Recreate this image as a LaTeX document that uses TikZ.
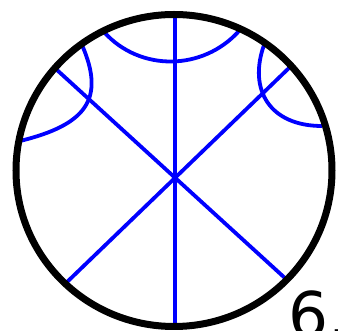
\documentclass[tikz,border=0pt]{standalone}
\usepackage{fontspec}
\setmainfont{DejaVu Sans}
\begin{document}
\begin{tikzpicture}[x=1pt,y=-1pt, geo/.style={blue, line width=3.8pt}, rim/.style={black, line width=7pt}]
			\useasboundingbox (0,0) rectangle (338,331);
			\coordinate (O) at (174,170.5);
			\coordinate (T) at (175,17);
			\coordinate (B) at (175,327);
			\coordinate (UL) at (57,70);
			\coordinate (LR) at (286,279);
			\coordinate (UR) at (289,68);
			\coordinate (LL) at (66,283);
			\draw[geo] (T) -- (B);
			\draw[geo] (UL) -- (LR);
			\draw[geo] (UR) -- (LL);
			\draw[geo] (104,32) .. controls (140,72) and (203,71) .. (239,31);
			\draw[geo] (82,45) .. controls (106,100) and (85,125) .. (20,141);
			\draw[geo] (264,45) .. controls (248,90) and (270,126) .. (322,126);
			\draw[rim] (O) ellipse [x radius=158, y radius=156];
			\node[anchor=base west, inner sep=0pt, font=\fontsize{63}{75}\selectfont] (lbl) at (288.3,337.5) {6.};
		\end{tikzpicture}
\end{document}
